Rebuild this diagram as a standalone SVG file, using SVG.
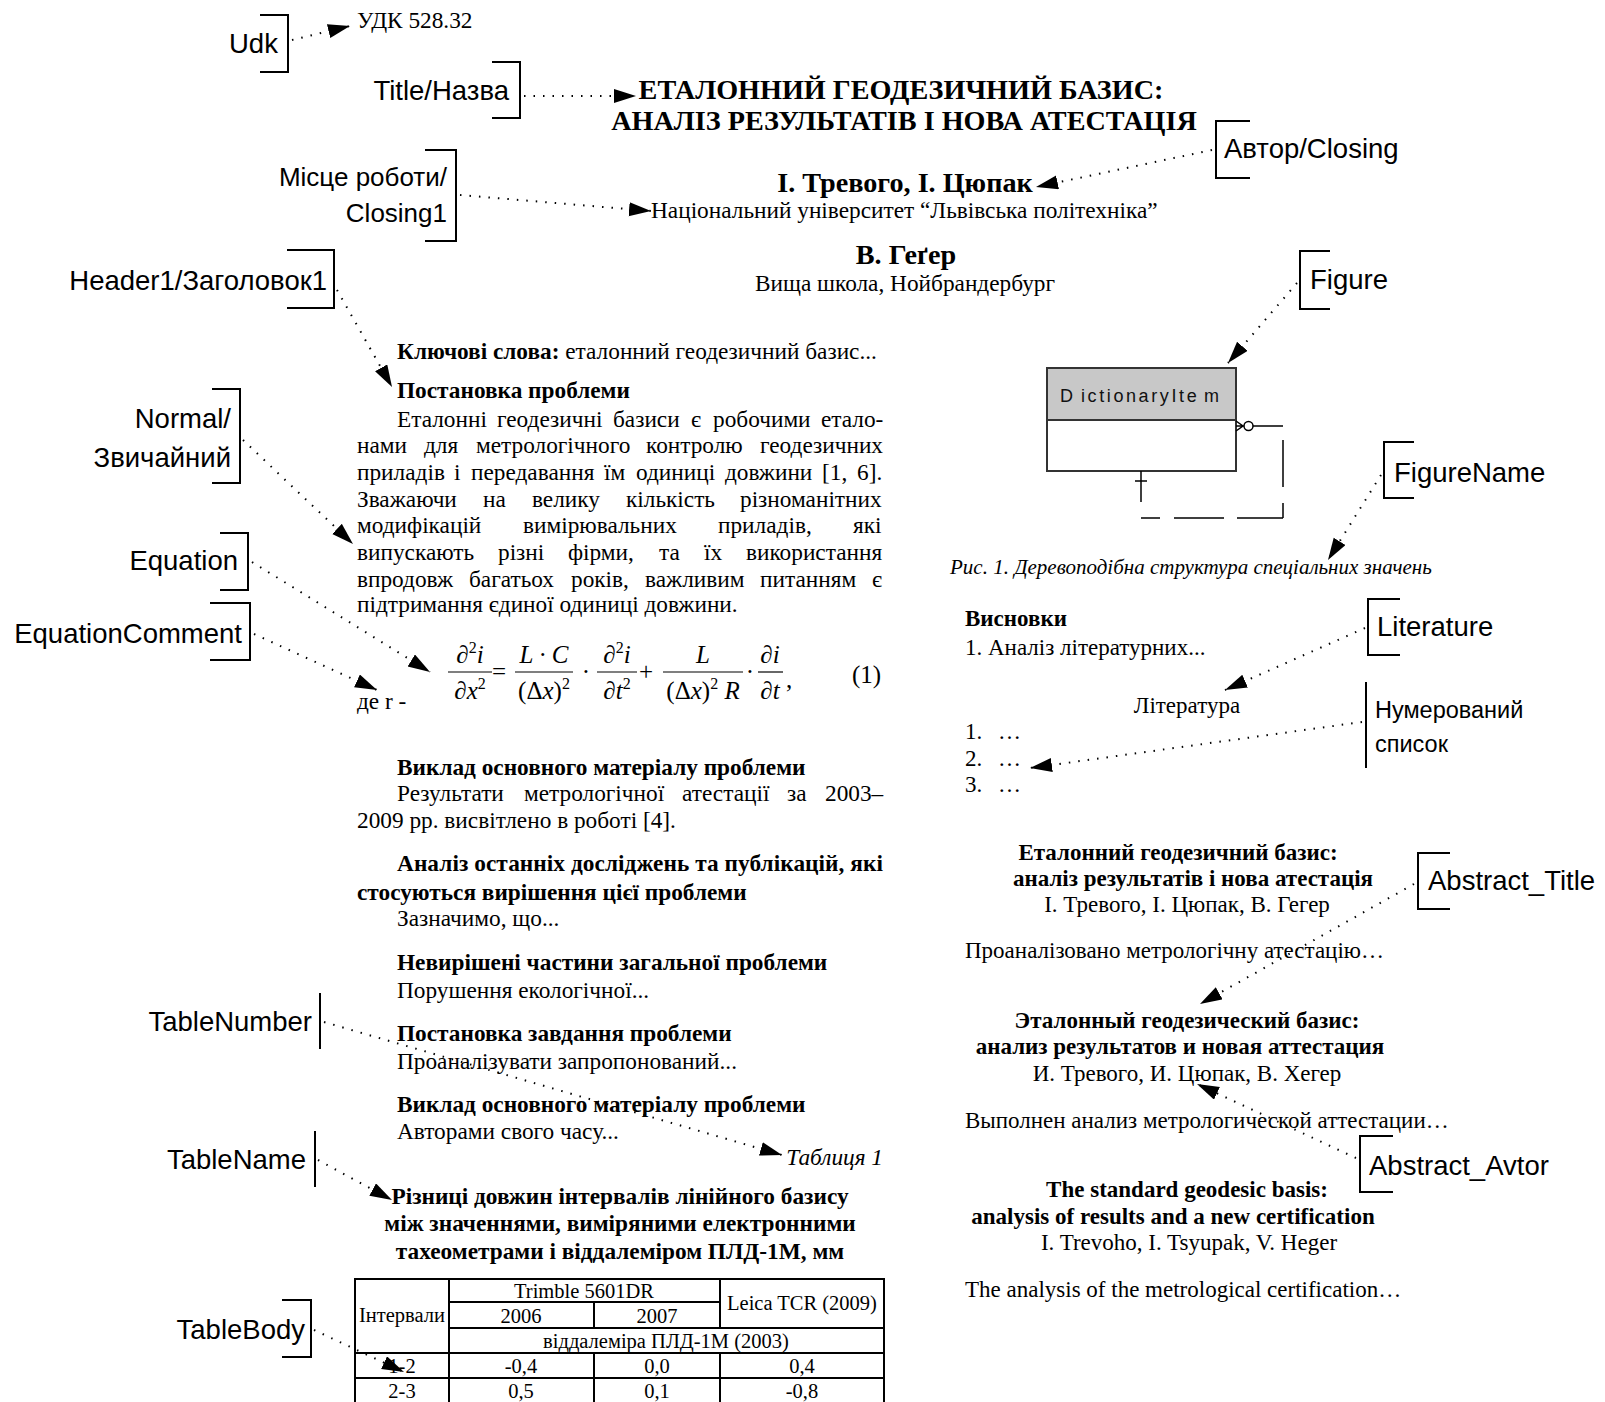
<svg xmlns="http://www.w3.org/2000/svg" width="1605" height="1402" viewBox="0 0 1605 1402">
<style>
.lbl{font-family:"Liberation Sans",Arial,sans-serif;font-size:27.5px;fill:#000}
.lbm{font-family:"Liberation Sans",Arial,sans-serif;font-size:26px;fill:#000}
.lbs{font-family:"Liberation Sans",Arial,sans-serif;font-size:23.5px;fill:#000}
.t{font-family:"Liberation Serif","Times New Roman",serif;font-size:23.3px;fill:#000}
.r{font-family:"Liberation Serif","Times New Roman",serif;font-size:23px;fill:#000}
.b{font-weight:bold}
.i{font-style:italic}
.tt{font-family:"Liberation Serif","Times New Roman",serif;font-size:28.2px;font-weight:bold;fill:#000}
.tab{font-family:"Liberation Serif","Times New Roman",serif;font-size:20.5px;fill:#000}
.eq{font-family:"Liberation Serif","Times New Roman",serif;font-size:25px;fill:#000}
.sup{font-size:16px}
.br{fill:none;stroke:#000;stroke-width:2}
.dot{fill:none;stroke:#000;stroke-width:2;stroke-dasharray:1.5 8;marker-end:url(#ah)}
.ln{fill:none;stroke:#000;stroke-width:2}
.fb{stroke:#000;stroke-width:1.2}
.er{font-family:"Liberation Sans",Arial,sans-serif;font-size:18px;fill:#111}
</style>
<defs>
<marker id="ah" markerUnits="userSpaceOnUse" markerWidth="24" markerHeight="16" refX="22" refY="7" orient="auto"><path d="M0,0 L22,7 L0,14 Z" fill="#000"/></marker>
</defs>
<rect width="1605" height="1402" fill="#fff"/>

<!-- labels -->
<g id="udk-label"><text class="lbl" x="229" y="53">Udk</text><path class="br" d="M260,15H288V72H260"/></g>
<g id="title-label"><text class="lbl" x="509" y="100" text-anchor="end">Title/Назва</text><path class="br" d="M492,62H520V118H492"/></g>
<g id="avtor-label"><text class="lbl" x="1224" y="158">Автор/Closing</text><path class="br" d="M1250,121H1216V178H1250"/></g>
<g id="misce-label"><text class="lbm" x="447" y="186" text-anchor="end">Місце роботи/</text><text class="lbm" x="447" y="222" text-anchor="end">Closing1</text><path class="br" d="M425,150H456V241H425"/></g>
<g id="header1-label"><text class="lbl" x="327" y="290" text-anchor="end">Header1/Заголовок1</text><path class="br" d="M287,250H334V308H287"/></g>
<g id="normal-label"><text class="lbl" x="231" y="428" text-anchor="end">Normal/</text><text class="lbl" x="231" y="467" text-anchor="end">Звичайний</text><path class="br" d="M212,389H240V483H212"/></g>
<g id="equation-label"><text class="lbl" x="238" y="570" text-anchor="end">Equation</text><path class="br" d="M220,533H248V590H220"/></g>
<g id="eqcomment-label"><text class="lbl" x="242" y="643" text-anchor="end">EquationComment</text><path class="br" d="M210,603H250V660H210"/></g>
<g id="tablenumber-label"><text class="lbl" x="312" y="1031" text-anchor="end">TableNumber</text><path class="br" d="M320,993V1049"/></g>
<g id="tablename-label"><text class="lbl" x="306" y="1169" text-anchor="end">TableName</text><path class="br" d="M315,1131V1187"/></g>
<g id="tablebody-label"><text class="lbl" x="305" y="1339" text-anchor="end">TableBody</text><path class="br" d="M282,1300H311V1357H282"/></g>
<g id="figure-label"><text class="lbl" x="1310" y="289">Figure</text><path class="br" d="M1330,251H1300V309H1330"/></g>
<g id="figurename-label"><text class="lbl" x="1394" y="482">FigureName</text><path class="br" d="M1414,442H1384V498H1414"/></g>
<g id="literature-label"><text class="lbl" x="1377" y="636">Literature</text><path class="br" d="M1400,599H1368V655H1400"/></g>
<g id="numlist-label"><text class="lbs" x="1375" y="718">Нумерований</text><text class="lbs" x="1375" y="752">список</text><path class="br" d="M1366,682V768"/></g>
<g id="abstract-title-label"><text class="lbl" x="1428" y="890">Abstract_Title</text><path class="br" d="M1450,853H1418V909H1450"/></g>
<g id="abstract-avtor-label"><text class="lbl" x="1369" y="1175">Abstract_Avtor</text><path class="br" d="M1393,1136H1360V1192H1393"/></g>

<!-- document: header -->
<g id="udk"><text class="t" x="357" y="28">УДК 528.32</text></g>
<g id="title"><text class="tt" x="901" y="99" text-anchor="middle">ЕТАЛОННИЙ ГЕОДЕЗИЧНИЙ БАЗИС:</text><text class="tt" x="904" y="130" text-anchor="middle">АНАЛІЗ РЕЗУЛЬТАТІВ І НОВА АТЕСТАЦІЯ</text></g>
<g id="authors"><text class="tt" x="905" y="192" text-anchor="middle">І. Тревого, І. Цюпак</text></g>
<g id="workplace"><text class="t" x="651" y="218">Національний університет “Львівська політехніка”</text></g>
<g id="author2"><text class="tt" x="906" y="264" text-anchor="middle">В. Геґер</text><text class="t" x="905" y="291" text-anchor="middle">Вища школа, Нойбрандербург</text></g>

<!-- left column -->
<g id="keywords"><text class="t" x="397" y="359"><tspan class="b">Ключові слова:</tspan> еталонний геодезичний базис...</text></g>
<g id="header1"><text class="t b" x="397" y="398">Постановка проблеми</text></g>
<g id="normal">
<text class="t" y="427"><tspan x="397">Еталонні</tspan><tspan x="497">геодезичні</tspan><tspan x="613">базиси</tspan><tspan x="691">є</tspan><tspan x="713">робочими</tspan><tspan x="821">етало-</tspan></text>
<text class="t" y="453"><tspan x="357">нами</tspan><tspan x="424">для</tspan><tspan x="476">метрологічного</tspan><tspan x="646">контролю</tspan><tspan x="760">геодезичних</tspan></text>
<text class="t" y="480"><tspan x="357">приладів</tspan><tspan x="454">і</tspan><tspan x="471">передавання</tspan><tspan x="604">їм</tspan><tspan x="636">одиниці</tspan><tspan x="725">довжини</tspan><tspan x="822">[1,</tspan><tspan x="857">6].</tspan></text>
<text class="t" y="507"><tspan x="357">Зважаючи</tspan><tspan x="483">на</tspan><tspan x="532">велику</tspan><tspan x="626">кількість</tspan><tspan x="740">різноманітних</tspan></text>
<text class="t" y="533"><tspan x="357">модифікацій</tspan><tspan x="523">вимірювальних</tspan><tspan x="718">приладів,</tspan><tspan x="853">які</tspan></text>
<text class="t" y="560"><tspan x="357">випускають</tspan><tspan x="498">різні</tspan><tspan x="568">фірми,</tspan><tspan x="659">та</tspan><tspan x="704">їх</tspan><tspan x="746">використання</tspan></text>
<text class="t" y="587"><tspan x="357">впродовж</tspan><tspan x="469">багатьох</tspan><tspan x="571">років,</tspan><tspan x="645">важливим</tspan><tspan x="760">питанням</tspan><tspan x="872">є</tspan></text>
<text class="t" x="357" y="612">підтримання єдиної одиниці довжини.</text>
</g>
<g id="equation">
<line class="fb" x1="448" y1="672" x2="492" y2="672"/>
<text class="eq" x="470" y="663" text-anchor="middle">∂<tspan class="sup" dy="-10">2</tspan><tspan class="i" dy="10">i</tspan></text>
<text class="eq" x="470" y="699" text-anchor="middle">∂<tspan class="i">x</tspan><tspan class="sup" dy="-10">2</tspan></text>
<text class="eq" x="499" y="680" text-anchor="middle">=</text>
<line class="fb" x1="515" y1="672" x2="573" y2="672"/>
<text class="eq i" x="544" y="663" text-anchor="middle">L · C</text>
<text class="eq" x="544" y="699" text-anchor="middle">(Δ<tspan class="i">x</tspan>)<tspan class="sup" dy="-10">2</tspan></text>
<text class="eq" x="586" y="680" text-anchor="middle">·</text>
<line class="fb" x1="597" y1="672" x2="637" y2="672"/>
<text class="eq" x="617" y="663" text-anchor="middle">∂<tspan class="sup" dy="-10">2</tspan><tspan class="i" dy="10">i</tspan></text>
<text class="eq" x="617" y="699" text-anchor="middle">∂<tspan class="i">t</tspan><tspan class="sup" dy="-10">2</tspan></text>
<text class="eq" x="646" y="680" text-anchor="middle">+</text>
<line class="fb" x1="663" y1="672" x2="743" y2="672"/>
<text class="eq i" x="703" y="663" text-anchor="middle">L</text>
<text class="eq" x="703" y="699" text-anchor="middle">(Δ<tspan class="i">x</tspan>)<tspan class="sup" dy="-10">2</tspan><tspan class="i" dy="10"> R</tspan></text>
<text class="eq" x="750" y="680" text-anchor="middle">·</text>
<line class="fb" x1="758" y1="672" x2="783" y2="672"/>
<text class="eq" x="770" y="663" text-anchor="middle">∂<tspan class="i">i</tspan></text>
<text class="eq" x="770" y="699" text-anchor="middle">∂<tspan class="i">t</tspan></text>
<text class="eq" x="786" y="688">,</text>
<text class="eq" x="852" y="683">(1)</text>
</g>
<g id="eqcomment"><text class="t" x="357" y="709">де r -</text></g>
<g id="section2">
<text class="t b" x="397" y="775">Виклад основного матеріалу проблеми</text>
<text class="t" y="801"><tspan x="397">Результати</tspan><tspan x="524">метрологічної</tspan><tspan x="682">атестації</tspan><tspan x="787">за</tspan><tspan x="825">2003–</tspan></text>
<text class="t" x="357" y="828">2009 рр. висвітлено в роботі [4].</text>
</g>
<g id="section3">
<text class="t b" x="397" y="871" textLength="486" lengthAdjust="spacing">Аналіз останніх досліджень та публікацій, які</text>
<text class="t b" x="357" y="900">стосуються вирішення цієї проблеми</text>
<text class="t" x="397" y="926">Зазначимо, що...</text>
</g>
<g id="section4">
<text class="t b" x="397" y="970">Невирішені частини загальної проблеми</text>
<text class="t" x="397" y="998">Порушення екологічної...</text>
</g>
<g id="section5">
<text class="t b" x="397" y="1041">Постановка завдання проблеми</text>
<text class="t" x="397" y="1069">Проаналізувати запропонований...</text>
</g>
<g id="section6">
<text class="t b" x="397" y="1112">Виклад основного матеріалу проблеми</text>
<text class="t" x="397" y="1139">Авторами свого часу...</text>
</g>
<g id="tablenumber"><text class="t i" x="883" y="1165" text-anchor="end">Таблиця 1</text></g>
<g id="tablename">
<text class="t b" x="620" y="1204" text-anchor="middle">Різниці довжин інтервалів лінійного базису</text>
<text class="t b" x="620" y="1231" text-anchor="middle">між значеннями, виміряними електронними</text>
<text class="t b" x="620" y="1259" text-anchor="middle">тахеометрами і віддалеміром ПЛД-1М, мм</text>
</g>
<g id="tablebody">
<path class="ln" d="M355,1404V1279H884V1404M449,1279V1404M449,1302H720M449,1328H884M355,1353H884M355,1378H884M594,1302V1328M594,1353V1404M720,1279V1328M720,1353V1404"/>
<text class="tab" x="402" y="1322" text-anchor="middle">Інтервали</text>
<text class="tab" x="584" y="1298" text-anchor="middle">Trimble 5601DR</text>
<text class="tab" x="521" y="1323" text-anchor="middle">2006</text>
<text class="tab" x="657" y="1323" text-anchor="middle">2007</text>
<text class="tab" x="802" y="1310" text-anchor="middle">Leica TCR (2009)</text>
<text class="tab" x="666" y="1348" text-anchor="middle">віддалеміра ПЛД-1М (2003)</text>
<text class="tab" x="402" y="1373" text-anchor="middle">1-2</text>
<text class="tab" x="521" y="1373" text-anchor="middle">-0,4</text>
<text class="tab" x="657" y="1373" text-anchor="middle">0,0</text>
<text class="tab" x="802" y="1373" text-anchor="middle">0,4</text>
<text class="tab" x="402" y="1398" text-anchor="middle">2-3</text>
<text class="tab" x="521" y="1398" text-anchor="middle">0,5</text>
<text class="tab" x="657" y="1398" text-anchor="middle">0,1</text>
<text class="tab" x="802" y="1398" text-anchor="middle">-0,8</text>
</g>

<!-- right column -->
<g id="figure">
<rect x="1047" y="368" width="189" height="52" fill="#c8c8c8" stroke="#333" stroke-width="2"/>
<rect x="1047" y="420" width="189" height="51" fill="#fff" stroke="#333" stroke-width="2"/>
<text class="er" y="402"><tspan x="1060">D</tspan><tspan x="1081" style="letter-spacing:2.6px">ictionaryIte</tspan><tspan x="1204">m</tspan></text>
<path d="M1236,421L1243,426L1236,431M1236,426H1244" fill="none" stroke="#000" stroke-width="1.5"/>
<circle cx="1248.5" cy="426" r="4.5" fill="#fff" stroke="#000" stroke-width="1.5"/>
<path class="ln" style="stroke-width:1.5" d="M1253,426H1283M1283,440V487M1283,503V518M1283,518H1237M1224,518H1174M1160,518H1141M1141,471V502M1135,481H1147"/>
</g>
<g id="figurename"><text class="t i" x="950" y="574" style="font-size:21px">Рис. 1. Деревоподібна структура спеціальних значень</text></g>
<g id="conclusions">
<text class="r b" x="965" y="626">Висновки</text>
<text class="r" x="965" y="655">1. Аналіз літературних...</text>
</g>
<g id="literature"><text class="r" x="1187" y="713" text-anchor="middle">Література</text></g>
<g id="numlist">
<text class="r" x="965" y="739">1.</text><text class="r" x="998" y="739">…</text>
<text class="r" x="965" y="766">2.</text><text class="r" x="998" y="766">…</text>
<text class="r" x="965" y="792">3.</text><text class="r" x="998" y="792">…</text>
</g>
<g id="abstract-ua">
<text class="r b" x="1178" y="860" text-anchor="middle">Еталонний геодезичний базис:</text>
<text class="r b" x="1193" y="886" text-anchor="middle">аналіз результатів і нова атестація</text>
<text class="r" x="1187" y="912" text-anchor="middle">І. Тревого, І. Цюпак, В. Гегер</text>
<text class="r" x="965" y="958">Проаналізовано метрологічну атестацію…</text>
</g>
<g id="abstract-ru">
<text class="r b" x="1187" y="1028" text-anchor="middle">Эталонный геодезический базис:</text>
<text class="r b" x="1180" y="1054" text-anchor="middle">анализ результатов и новая аттестация</text>
<text class="r" x="1187" y="1081" text-anchor="middle">И. Тревого, И. Цюпак, В. Хегер</text>
<text class="r" x="965" y="1128">Выполнен анализ метрологической аттестации…</text>
</g>
<g id="abstract-en">
<text class="r b" x="1187" y="1197" text-anchor="middle">The standard geodesic basis:</text>
<text class="r b" x="1173" y="1224" text-anchor="middle">analysis of results and a new certification</text>
<text class="r" x="1189" y="1250" text-anchor="middle">I. Trevoho, I. Tsyupak, V. Heger</text>
<text class="r" x="965" y="1297">The analysis of the metrological certification…</text>
</g>

<!-- connectors -->
<g id="connectors">
<path class="dot" d="M292,40L350,26"/>
<path class="dot" d="M524,96L636,96"/>
<path class="dot" d="M1212,150L1036,187"/>
<path class="dot" d="M460,195L651,211"/>
<path class="dot" d="M337,290L392,387"/>
<path class="dot" d="M243,440L353,544"/>
<path class="dot" d="M252,562L430,672"/>
<path class="dot" d="M254,634L377,690"/>
<path class="dot" d="M324,1022L782,1155"/>
<path class="dot" d="M318,1160L392,1200"/>
<path class="dot" d="M314,1330L404,1372"/>
<path class="dot" d="M1297,283L1228,363"/>
<path class="dot" d="M1381,475L1328,560"/>
<path class="dot" d="M1365,628L1225,690"/>
<path class="dot" d="M1362,722L1030,768"/>
<path class="dot" d="M1414,884L1200,1004"/>
<path class="dot" d="M1356,1158L1197,1084"/>
</g>
</svg>
